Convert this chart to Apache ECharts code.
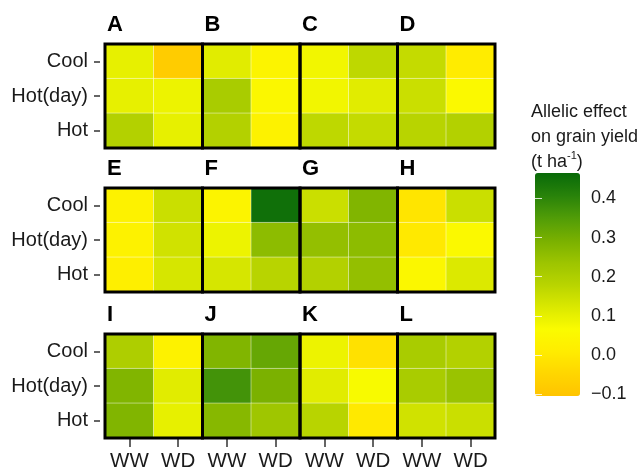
<!DOCTYPE html>
<html>
<head>
<meta charset="utf-8">
<script src="https://cdn.jsdelivr.net/npm/echarts@6/dist/echarts.min.js"></script>
<style>
  html, body { margin: 0; padding: 0; background: #fff; }
  #chart { width: 644px; height: 472px; }
</style>
</head>
<body>
<div id="chart"></div>
<script>
// Treatment categories
const regimes = ['WW', 'WD'];
const conditions = ['Cool', 'Hot(day)', 'Hot'];
const panelLetters = ['A', 'B', 'C', 'D', 'E', 'F', 'G', 'H', 'I', 'J', 'K', 'L'];

// Allelic effect on grain yield (t ha-1), rows: Cool, Hot(day), Hot; columns: WW, WD
const effectA = [[0.10, -0.08], [0.10, 0.09], [0.19, 0.10]];
const effectB = [[0.11, 0.04], [0.21, 0.05], [0.19, 0.03]];
const effectC = [[0.08, 0.17], [0.08, 0.11], [0.17, 0.16]];
const effectD = [[0.16, 0.01], [0.15, 0.06], [0.18, 0.19]];
const effectE = [[0.03, 0.15], [0.03, 0.14], [0.02, 0.13]];
const effectF = [[0.04, 0.45], [0.09, 0.26], [0.13, 0.18]];
const effectG = [[0.15, 0.28], [0.25, 0.26], [0.19, 0.25]];
const effectH = [[-0.01, 0.15], [0.00, 0.06], [0.05, 0.12]];
const effectI = [[0.20, 0.03], [0.28, 0.11], [0.28, 0.10]];
const effectJ = [[0.28, 0.32], [0.37, 0.29], [0.27, 0.23]];
const effectK = [[0.09, -0.02], [0.11, 0.07], [0.18, 0.00]];
const effectL = [[0.21, 0.19], [0.21, 0.24], [0.14, 0.15]];

// Colour bar scale and tick labels
const scaleMin = -0.105;
const scaleMax = 0.465;
const tickMin = -0.1;
const tickMax = 0.4;
const tickStep = 0.1;
const scaleColors = ['#FFC400', '#FFD600', '#FFEC00', '#FAFB00', '#DAE800', '#B8D400',
                     '#9CC400', '#78B000', '#509C08', '#28820A', '#086A08'];

const panelData = [effectA, effectB, effectC, effectD, effectE, effectF,
                   effectG, effectH, effectI, effectJ, effectK, effectL];

// Panel layout
const FONT = '"Liberation Sans", Arial, Helvetica, sans-serif';
const panelLeft = 105;
const panelWidth = 97.5;
const rowTops = [44, 188, 334];
const panelHeight = 104;

const grids = [], xAxes = [], yAxes = [], series = [], titles = [];

panelData.forEach((vals, p) => {
  const r = Math.floor(p / 4), c = p % 4;
  const left = panelLeft + c * panelWidth;
  const top = rowTops[r];
  grids.push({
    left: left, top: top, width: panelWidth, height: panelHeight,
    show: true, z: 10, backgroundColor: 'transparent',
    borderColor: '#000', borderWidth: 3
  });
  xAxes.push({
    type: 'category', data: regimes, gridIndex: p, position: 'bottom', offset: 1,
    axisLine: { show: false },
    axisTick: { show: r === 2, interval: 0, alignWithLabel: true, length: 8, lineStyle: { color: '#333', width: 1.5 } },
    axisLabel: { show: r === 2, interval: 0, margin: 12, fontSize: 20.5, color: '#1a1a1a', fontFamily: FONT },
    splitLine: { show: false }
  });
  yAxes.push({
    type: 'category', data: conditions, gridIndex: p, inverse: true, position: 'left', offset: 5,
    axisLine: { show: false },
    axisTick: { show: c === 0, interval: 0, alignWithLabel: true, length: 6, lineStyle: { color: '#333', width: 1.5 } },
    axisLabel: { show: c === 0, interval: 0, margin: 12, fontSize: 20, color: '#1a1a1a', fontFamily: FONT },
    splitLine: { show: false }
  });
  const cells = [];
  vals.forEach((row, yi) => row.forEach((v, xi) => cells.push([xi, yi, v])));
  series.push({
    type: 'heatmap', xAxisIndex: p, yAxisIndex: p, data: cells,
    itemStyle: { borderColor: 'rgba(255,255,255,0.45)', borderWidth: 1 },
    emphasis: { disabled: true }, silent: true
  });
  titles.push({
    text: panelLetters[p], left: left + 2, top: top - 30, padding: 0,
    textStyle: { fontSize: 22, fontWeight: 'bold', color: '#000', fontFamily: FONT }
  });
});

// Colour bar geometry
const barLeft = 535, barTop = 173, barWidth = 45, barHeight = 223;
const pxPerUnit = barHeight / (scaleMax - scaleMin);
const tickTop = barTop + (scaleMax - tickMax) * pxPerUnit;
const tickHeight = (tickMax - tickMin) * pxPerUnit;
const cbIndex = panelData.length;

grids.push({ left: barLeft, top: tickTop, width: barWidth, height: tickHeight, show: false });
xAxes.push({ type: 'value', gridIndex: cbIndex, show: false, min: 0, max: 1 });
const fmt = v => v.toFixed(1).replace('-', '\u2212');
yAxes.push({
  type: 'value', gridIndex: cbIndex, position: 'right', min: tickMin, max: tickMax, interval: tickStep, z: 20,
  axisLine: { show: false },
  axisTick: { show: true, inside: true, length: 7, lineStyle: { color: 'rgba(255,255,255,0.8)', width: 1 } },
  axisLabel: { margin: 11, fontSize: 18, color: '#1a1a1a', fontFamily: FONT, formatter: fmt },
  splitLine: { show: false }
});
yAxes.push({
  type: 'value', gridIndex: cbIndex, position: 'left', min: tickMin, max: tickMax, interval: tickStep, z: 20,
  axisLine: { show: false },
  axisTick: { show: true, inside: true, length: 7, lineStyle: { color: 'rgba(255,255,255,0.8)', width: 1 } },
  axisLabel: { show: false },
  splitLine: { show: false }
});

titles.push({
  text: 'Allelic effect\non grain yield\n(t ha{sup|-1})',
  left: 531, top: 100, padding: 0,
  textStyle: {
    fontSize: 18, fontWeight: 'normal', color: '#1a1a1a', fontFamily: FONT, lineHeight: 25,
    rich: { sup: { fontSize: 11, verticalAlign: 'top', lineHeight: 25, padding: [0, 0, 9, 0], color: '#1a1a1a', fontFamily: FONT } }
  }
});

const chart = echarts.init(document.getElementById('chart'), null, { renderer: 'canvas' });
chart.setOption({
  backgroundColor: '#fff',
  animation: false,
  title: titles,
  grid: grids,
  xAxis: xAxes,
  yAxis: yAxes,
  visualMap: {
    type: 'continuous', min: scaleMin, max: scaleMax, calculable: false, show: true,
    seriesIndex: series.map((s, i) => i),
    orient: 'vertical', left: barLeft, top: barTop, padding: 0,
    itemWidth: barWidth, itemHeight: barHeight, text: null, showLabel: false,
    inRange: { color: scaleColors }, hoverLink: false
  },
  series: series
});
</script>
</body>
</html>
